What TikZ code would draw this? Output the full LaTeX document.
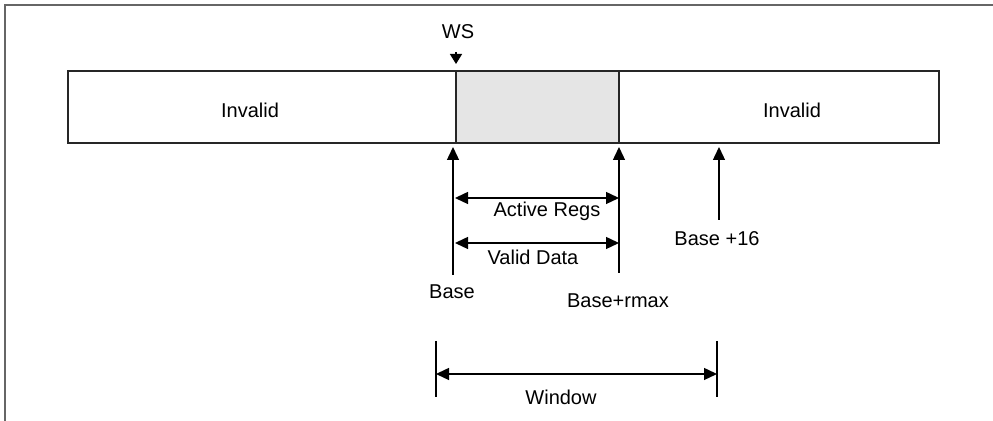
\documentclass[tikz,border=0pt]{standalone}
\usepackage{fontspec}
\setmainfont{Liberation Sans}
\usetikzlibrary{arrows.meta}
\begin{document}
\begin{tikzpicture}[x=0.5pt,y=-0.5pt,
  lbl/.style={inner sep=0pt,font=\fontsize{10}{12}\selectfont,text=black},
  barline/.style={draw=black!85,line width=0.75pt},
  ptr/.style={line width=0.7pt,-{Triangle[length=6.5pt,width=6pt]}},
  dbl/.style={line width=0.7pt,{Triangle[length=6.5pt,width=6pt]}-{Triangle[length=6.5pt,width=6pt]}},
  tick/.style={line width=0.7pt}]
\useasboundingbox (0,0) rectangle (993,421);
% frame
\draw[black!60,line width=1pt] (993,5) -- (5,5) -- (5,421);
% bar
\fill[black!10] (456,71) rectangle (619,143);
\draw[barline] (68,71) rectangle (939,143);
\draw[barline] (456,71) -- (456,143);
\draw[barline] (619,71) -- (619,143);
\node[lbl] (inv1) at (250,110) {Invalid};
\node[lbl] (inv2) at (792,110) {Invalid};
% WS
\node[lbl] (ws) at (458,32) {WS};
\coordinate (wsTop) at (456,52);
\coordinate (wsTip) at (456,64);
\draw[line width=0.7pt,-{Triangle[length=5pt,width=6pt]}] (wsTop) -- (wsTip);
% pointers
\coordinate (bTail) at (453,275);
\coordinate (bTip) at (453,147);
\coordinate (rTail) at (619,273);
\coordinate (rTip) at (619,147);
\coordinate (sTail) at (719,220);
\coordinate (sTip) at (719,147);
\draw[ptr] (bTail) -- (bTip);
\draw[ptr] (rTail) -- (rTip);
\draw[ptr] (sTail) -- (sTip);
% active regs / valid data
\coordinate (a1) at (455,198);
\coordinate (a2) at (619,198);
\coordinate (v1) at (455,243);
\coordinate (v2) at (619,243);
\draw[dbl] (a1) -- (a2);
\draw[dbl] (v1) -- (v2);
\node[lbl] (act) at (547,211) {Active Regs};
\node[lbl] (val) at (533,257) {Valid Data};
\node[lbl] (base) at (452,292) {Base};
\node[lbl] (rmax) at (618,301) {Base+rmax};
\node[lbl] (b16) at (717,239) {Base +16};
% window
\coordinate (w1t) at (436,341);
\coordinate (w1b) at (436,397);
\coordinate (w2t) at (717,341);
\coordinate (w2b) at (717,397);
\draw[tick] (w1t) -- (w1b);
\draw[tick] (w2t) -- (w2b);
\coordinate (wa) at (436,374);
\coordinate (wb) at (717,374);
\draw[dbl] (wa) -- (wb);
\node[lbl] (win) at (561,397) {Window};
\end{tikzpicture}
\end{document}
